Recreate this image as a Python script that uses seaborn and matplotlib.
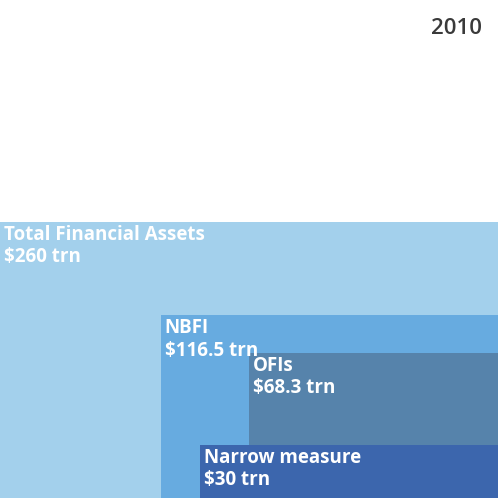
import matplotlib.pyplot as plt
import seaborn as sns

# values in trillion USD
labels = ["Total Financial Assets", "NBFI", "OFIs", "Narrow measure"]
values = [260, 116.5, 68.3, 30]
value_text = ["$260 trn", "$116.5 trn", "$68.3 trn", "$30 trn"]
# width of each box as a share of the full width (boxes share the bottom-right corner)
width_share = [1.0, 0.677, 0.5, 0.598]
colors = ["#a3d0ec", "#67abe0", "#5683ab", "#3c66ad"]
year = "2010"

sns.set_style("white")
plt.rcParams["font.family"] = ["Open Sans", "DejaVu Sans"]

fig = plt.figure(figsize=(4.98, 4.98), dpi=100)
ax = fig.add_axes([0, 0, 1, 1])

full_w = 498
full_h = 276
scale = full_w * full_h / values[0]  # pixels^2 per trillion

for lab, val, txt, ws, col in zip(labels, values, value_text, width_share, colors):
    w = full_w * ws
    h = val * scale / w
    x0 = full_w - w
    ax.bar(x0, h, width=w, bottom=0, align="edge", color=col, edgecolor="none")
    ax.text(x0 + 4, h - 3, lab + "\n" + txt, color="white", fontsize=13.5,
            fontweight="bold", va="top", ha="left", linespacing=1.15)

ax.text(482, 498 - 28, year, color="#3a3a3a", fontsize=16,
        fontweight="semibold", ha="right", va="center")

ax.set_xlim(0, 498)
ax.set_ylim(0, 498)
ax.axis("off")
fig.savefig("out.png", dpi=100)
